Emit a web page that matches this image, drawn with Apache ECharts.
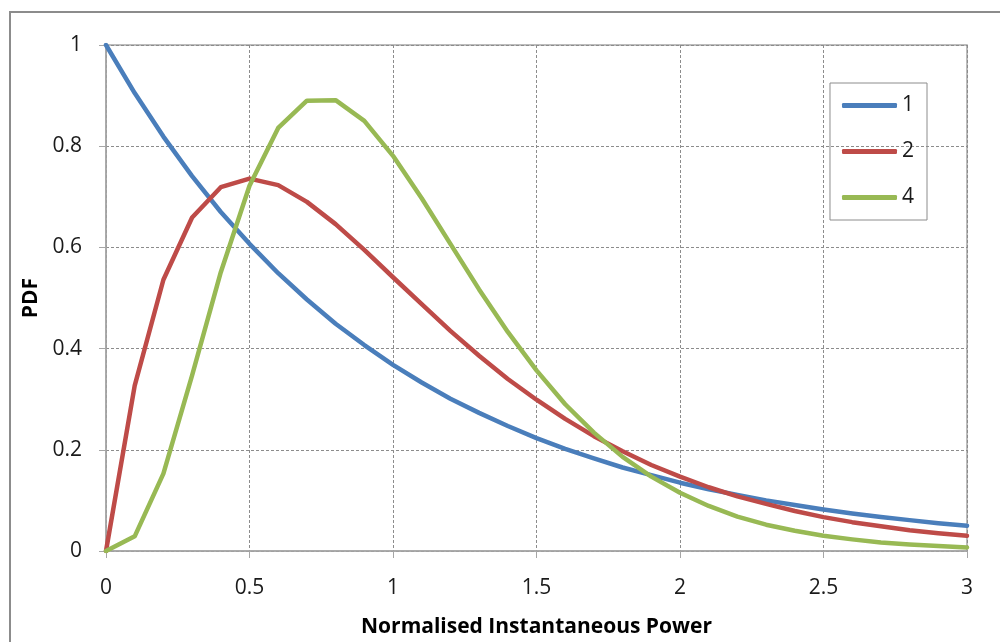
<!DOCTYPE html>
<html><head><meta charset="utf-8">
<script src="https://cdn.jsdelivr.net/npm/echarts@6/dist/echarts.min.js"></script>
<style>html,body{margin:0;padding:0;background:#fff}#c{width:1000px;height:642px}</style>
</head><body><div id="c"></div>
<script>
const xValues = [0,0.1,0.2,0.3,0.4,0.5,0.6,0.7,0.8,0.9,1.0,1.1,1.2,1.3,1.4,1.5,1.6,1.7,1.8,1.9,2.0,2.1,2.2,2.3,2.4,2.5,2.6,2.7,2.8,2.9,3.0];
const seriesNames = ['1','2','4'];
const pdf1 = [1,0.905,0.819,0.741,0.670,0.607,0.549,0.497,0.449,0.407,0.368,0.333,0.301,0.273,0.247,0.223,0.202,0.183,0.165,0.150,0.135,0.122,0.111,0.100,0.091,0.082,0.074,0.067,0.061,0.055,0.050];
const pdf2 = [0,0.327,0.536,0.659,0.719,0.736,0.723,0.690,0.646,0.595,0.541,0.488,0.435,0.386,0.340,0.299,0.261,0.227,0.197,0.170,0.147,0.126,0.108,0.093,0.079,0.067,0.057,0.049,0.041,0.035,0.030];
const pdf4 = [0,0.029,0.153,0.347,0.551,0.722,0.836,0.890,0.891,0.850,0.781,0.697,0.607,0.517,0.433,0.357,0.290,0.234,0.186,0.147,0.115,0.089,0.068,0.052,0.040,0.030,0.023,0.017,0.013,0.010,0.007];
const colors = ['#4a7ebb','#be4b48','#98b954'];
const allData = [pdf1,pdf2,pdf4];

const chart = echarts.init(document.getElementById('c'));
const font = 'Open Sans, Liberation Sans, sans-serif';
chart.setOption({
  animation:false,
  graphic:[{type:'rect',shape:{x:10,y:12,width:1000,height:700},style:{fill:'none',stroke:'#8c8c8c',lineWidth:2},z:-1}],
  grid:{left:106,top:45,right:33,bottom:91,show:true,borderColor:'#a6a6a6',borderWidth:1.5,containLabel:false,outerBoundsMode:'none'},
  legend:{
    orient:'vertical',right:73,top:83,itemWidth:55,itemHeight:5,itemGap:25,
    padding:[12,13,12,12],
    borderColor:'#8c8c8c',borderWidth:1,
    textStyle:{fontFamily:font,fontSize:21,color:'#1a1a1a'},
    icon:'roundRect',
    data:seriesNames
  },
  xAxis:{
    type:'value',min:0,max:3,interval:0.5,
    name:'Normalised Instantaneous Power',nameLocation:'middle',nameGap:66,
    nameTextStyle:{fontFamily:font,fontSize:21,fontWeight:'bold',color:'#000'},
    axisLine:{show:true,onZero:false,lineStyle:{color:'#a6a6a6',width:1.5}},
    axisTick:{show:true,length:7,lineStyle:{color:'#a6a6a6'}},
    axisLabel:{fontFamily:font,fontSize:21,color:'#1a1a1a',margin:27,formatter:v=>String(v)},
    splitLine:{show:true,lineStyle:{color:'#8c8c8c',type:[3,2],width:1}}
  },
  yAxis:{
    type:'value',min:0,max:1,interval:0.2,
    name:'PDF',nameLocation:'middle',nameGap:63,nameRotate:90,
    nameTextStyle:{fontFamily:font,fontSize:21,fontWeight:'bold',color:'#000'},
    axisLine:{show:true,lineStyle:{color:'#a6a6a6',width:1.5}},
    axisTick:{show:true,length:7,lineStyle:{color:'#a6a6a6'}},
    axisLabel:{fontFamily:font,fontSize:21,color:'#1a1a1a',margin:24,formatter:v=>String(+v.toFixed(1))},
    splitLine:{show:true,lineStyle:{color:'#8c8c8c',type:[3,2],width:1}}
  },
  series:seriesNames.map((n,i)=>({
    name:n,type:'line',showSymbol:false,symbol:'none',
    lineStyle:{color:colors[i],width:4.5,cap:'round',join:'round'},
    itemStyle:{color:colors[i]},
    data:xValues.map((x,j)=>[x,allData[i][j]])
  }))
});
</script></body></html>
